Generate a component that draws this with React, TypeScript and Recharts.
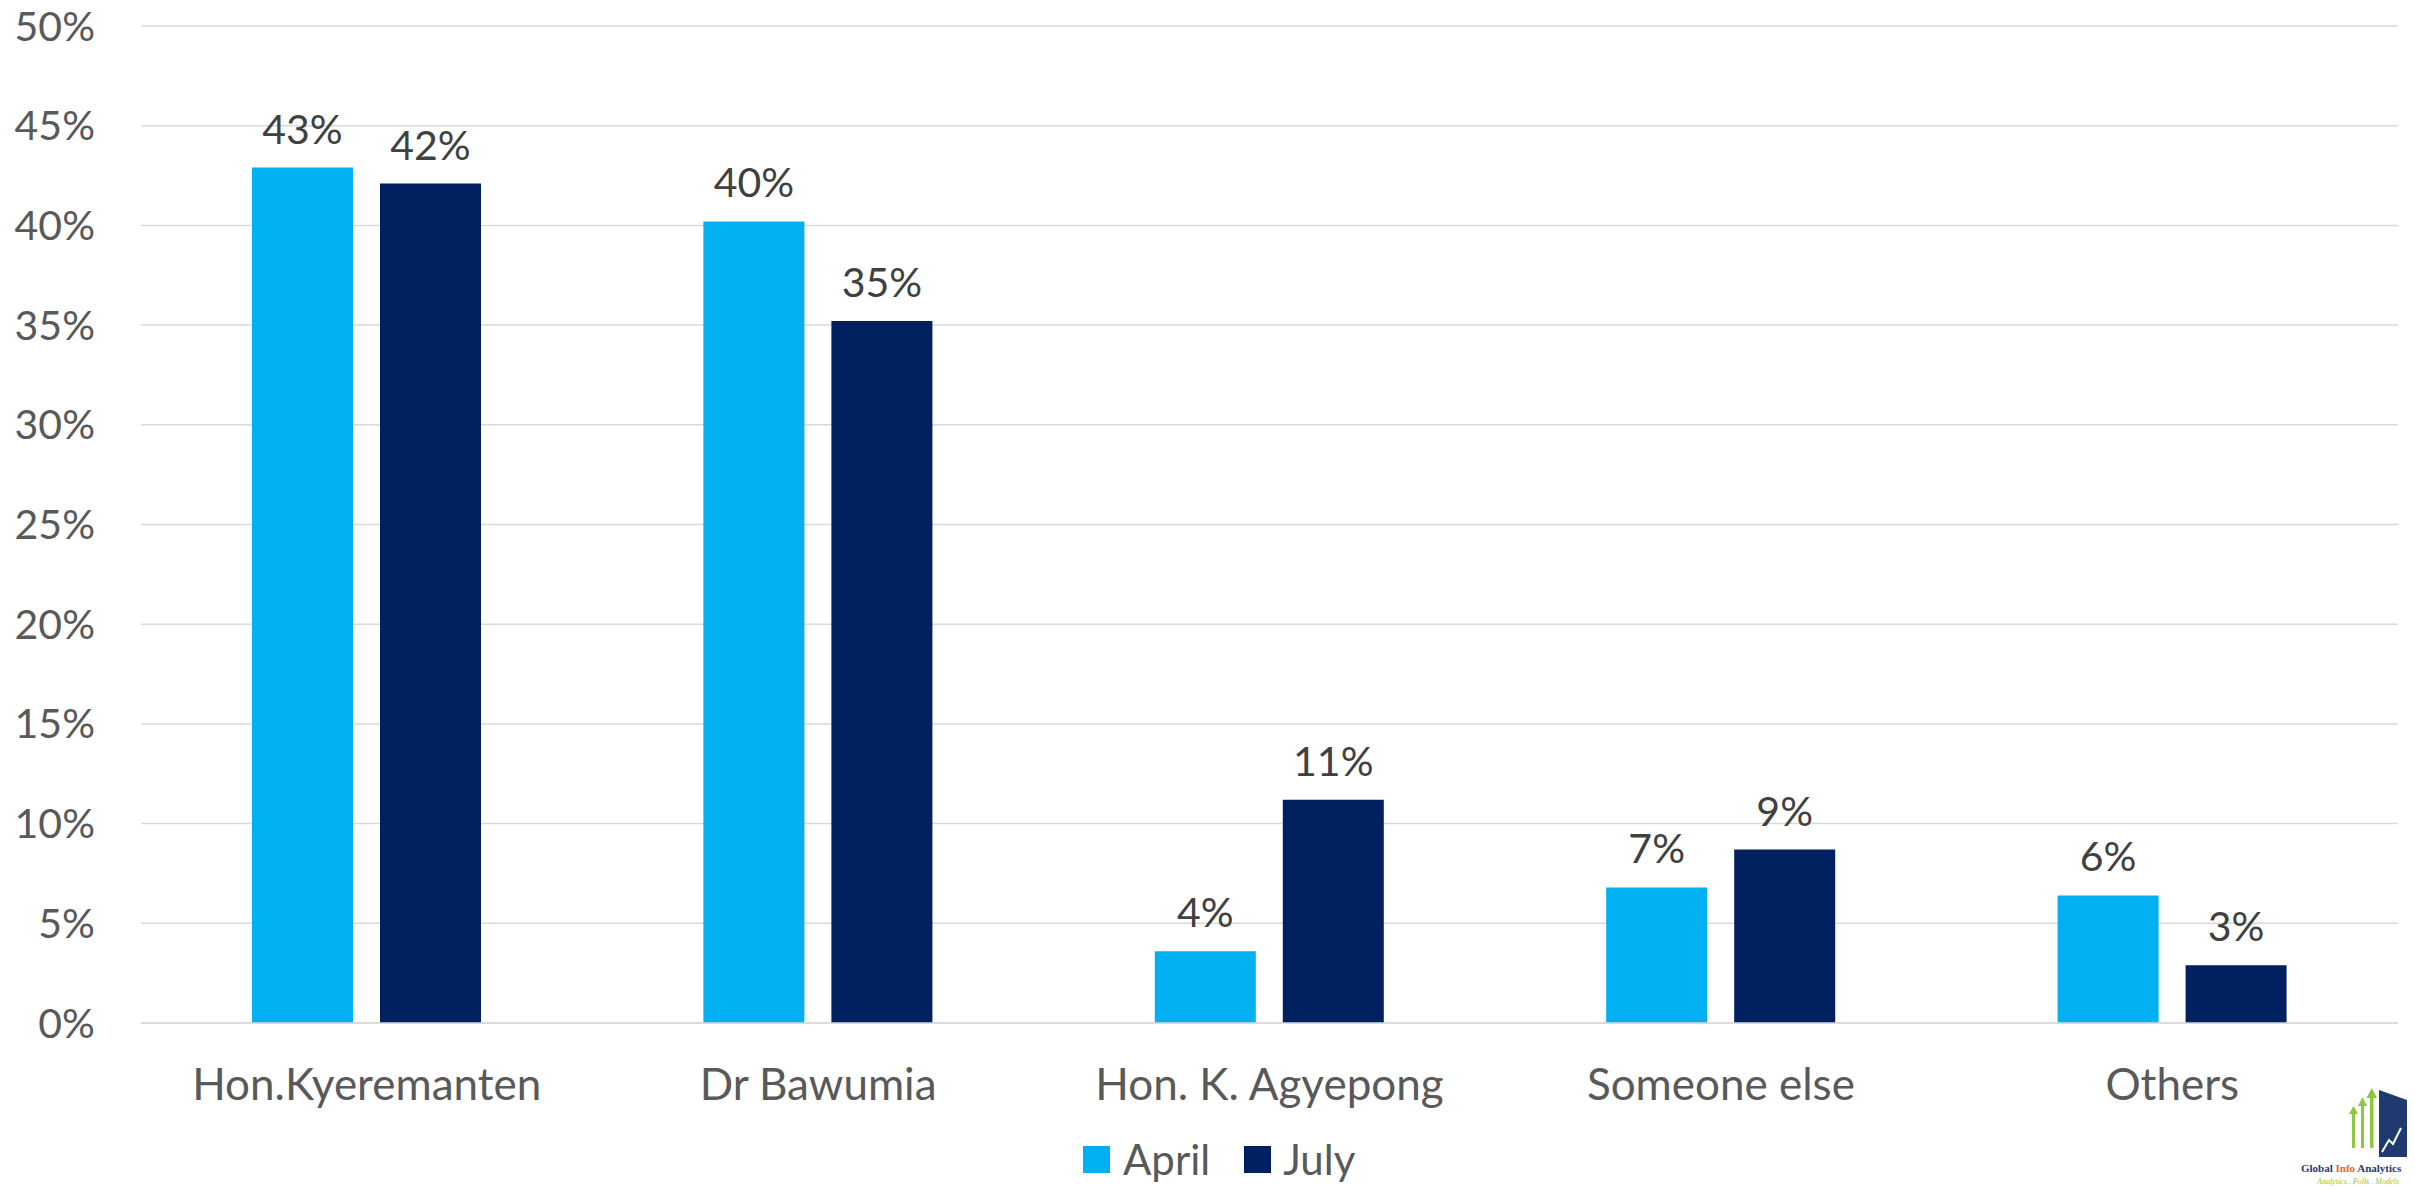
import React from 'react';
import { BarChart, Bar, XAxis, YAxis, CartesianGrid, Legend, LabelList } from 'recharts';

const candidates = ['Hon.Kyeremanten', 'Dr Bawumia', 'Hon. K. Agyepong', 'Someone else', 'Others'];
const april = [42.9, 40.2, 3.6, 6.8, 6.4];
const july = [42.1, 35.2, 11.2, 8.7, 2.9];
const yTicks = [0, 5, 10, 15, 20, 25, 30, 35, 40, 45, 50];

const APRIL_COLOR = '#00B0F0';
const JULY_COLOR = '#002060';
const FONT = 'Lato, "Open Sans", sans-serif';

const data = candidates.map((name, i) => ({ name, april: april[i], july: july[i] }));

const pct = (v: any) => `${Math.round(Number(v))}%`;

const LegendContent = () => (
  <div style={{ display: 'flex', alignItems: 'center', fontFamily: FONT, fontSize: 42, color: '#595959', height: 52, paddingTop: 10, lineHeight: '52px' }}>
    <span style={{ width: 27, height: 27, background: APRIL_COLOR, display: 'inline-block', marginRight: 13 }} />
    <span style={{ marginRight: 34 }}>April</span>
    <span style={{ width: 27, height: 27, background: JULY_COLOR, display: 'inline-block', marginRight: 12 }} />
    <span>July</span>
  </div>
);

// small company mark in the bottom right corner
const Logo = () => (
  <svg width={120} height={110} style={{ position: 'absolute', left: 2295, top: 1080 }}>
    <g fill="#8dc63f">
      <rect x={57} y={33} width={3} height={35} />
      <polygon points="54,34 58.5,26 63,34" />
      <rect x={66} y={25} width={3} height={43} />
      <polygon points="63,26 67.5,17 72,26" />
      <rect x={75} y={17} width={3.5} height={51} />
      <polygon points="71.5,18 76.75,8 82,18" />
    </g>
    <polygon points="84,10 112,20 112,77 84,77" fill="#1f3a6e" />
    <polyline points="87,72 94,60 98,64 106,48" fill="none" stroke="#fff" strokeWidth={2} />
    <text x={6} y={92} fontFamily="'Liberation Serif', serif" fontWeight="bold" fontSize={11} fill="#1f3a6e">
      Global <tspan fill="#f26522">Info</tspan> Analytics
    </text>
    <text x={22} y={104} fontFamily="'Liberation Serif', serif" fontStyle="italic" fontSize={8} fill="#8dc63f">
      Analytics . Polls . Models
    </text>
  </svg>
);

export default function App() {
  return (
    <div style={{ position: 'absolute', left: 0, top: 0, width: 2415, height: 1189, background: '#fff', overflow: 'hidden' }}>
      <BarChart
        width={2415}
        height={1189}
        data={data}
        margin={{ top: 26, right: 17, left: 0, bottom: 0 }}
        barSize={101}
        barGap={27}
      >
        <CartesianGrid vertical={false} stroke="#d9d9d9" strokeWidth={1.5} />
        <XAxis
          dataKey="name"
          height={100}
          axisLine={{ stroke: '#d9d9d9', strokeWidth: 1.5 }}
          tickLine={false}
          tickMargin={40}
          tick={{ fill: '#595959', fontSize: 44, fontFamily: FONT }}
          interval={0}
        />
        <YAxis
          width={141}
          domain={[0, 50]}
          ticks={yTicks}
          tickFormatter={(v) => `${v}%`}
          axisLine={false}
          tickLine={false}
          tickMargin={40}
          tick={{ fill: '#595959', fontSize: 41, fontFamily: FONT }}
        />
        <Legend
          verticalAlign="bottom"
          height={66}
          content={<LegendContent />}
          wrapperStyle={{ left: 1083, width: 'auto' }}
        />
        <Bar dataKey="april" name="April" fill={APRIL_COLOR} isAnimationActive={false}>
          <LabelList dataKey="april" position="top" offset={24} formatter={pct} fill="#404040" fontSize={41} fontFamily={FONT} />
        </Bar>
        <Bar dataKey="july" name="July" fill={JULY_COLOR} isAnimationActive={false}>
          <LabelList dataKey="july" position="top" offset={24} formatter={pct} fill="#404040" fontSize={41} fontFamily={FONT} />
        </Bar>
      </BarChart>
      <Logo />
    </div>
  );
}
